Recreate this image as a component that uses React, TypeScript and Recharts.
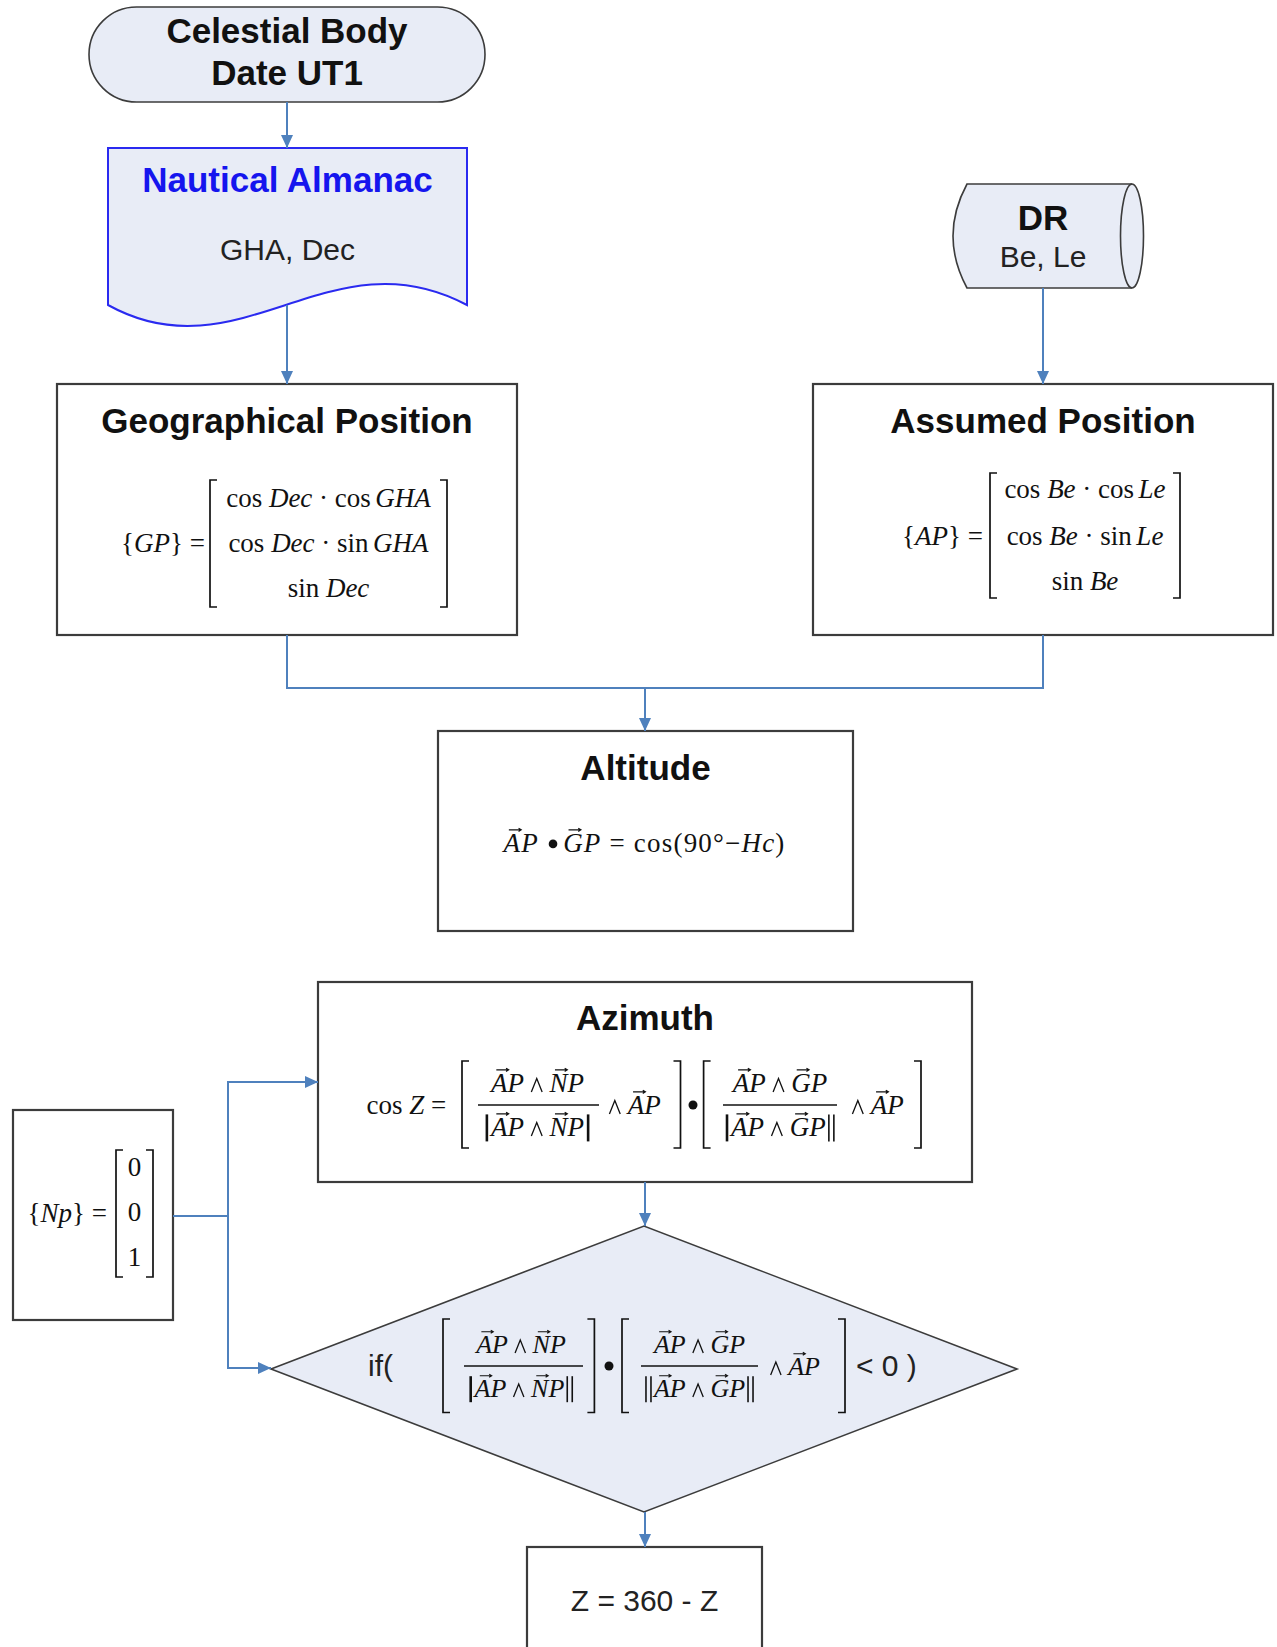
import React from "react";
import { ScatterChart, Scatter, XAxis, YAxis } from "recharts";

const WIDTH = 1277;
const HEIGHT = 1647;

const SANS = '"Liberation Sans", Arial, sans-serif';
const SERIF = '"Liberation Serif", "Times New Roman", serif';
const FLOW_BLUE = "#4f81bd";
const OUTLINE = "#3c3c3c";
const SHADE = "#e8ecf6";
const INK = "#111111";
const TITLE_BLUE = "#1515ee";

// flowchart nodes, centre in diagram units (origin top-left, 1 unit = 1 px)
const nodeIds = ["start", "almanac", "dr", "gp", "ap", "altitude", "azimuth", "np", "test", "flip"];
const nodeX = [287, 287.5, 1045, 287, 1043, 645.5, 645, 93, 644, 644.5];
const nodeY = [54.5, 237, 236, 509.5, 509.5, 831, 1082, 1215, 1369, 1627];

// labels
const startLabel = ["Celestial Body", "Date UT1"];
const almanacLabel = ["Nautical Almanac", "GHA, Dec"];
const drLabel = ["DR", "Be, Le"];
const gpTitle = "Geographical Position";
const apTitle = "Assumed Position";
const altitudeTitle = "Altitude";
const azimuthTitle = "Azimuth";
const npColumn = ["0", "0", "1"];
const flipLabel = "Z = 360 - Z";

// connectors (polyline routes)
const connStart = [{ x: 287, y: 102 }, { x: 287, y: 148 }];
const connAlmanac = [{ x: 287, y: 305 }, { x: 287, y: 384 }];
const connDr = [{ x: 1043, y: 288 }, { x: 1043, y: 384 }];
const connGp = [{ x: 287, y: 635 }, { x: 287, y: 688 }, { x: 645, y: 688 }, { x: 645, y: 731 }];
const connAp = [{ x: 1043, y: 635 }, { x: 1043, y: 688 }, { x: 645, y: 688 }];
const connNpAz = [{ x: 173, y: 1216 }, { x: 228, y: 1216 }, { x: 228, y: 1082 }, { x: 318, y: 1082 }];
const connNpTest = [{ x: 228, y: 1216 }, { x: 228, y: 1368 }, { x: 271, y: 1368 }];
const connAzTest = [{ x: 645, y: 1182 }, { x: 645, y: 1226 }];
const connTestFlip = [{ x: 645, y: 1512 }, { x: 645, y: 1547 }];

const connectors = [
  { pts: connStart, dir: "down" },
  { pts: connAlmanac, dir: "down" },
  { pts: connDr, dir: "down" },
  { pts: connGp, dir: "down" },
  { pts: connAp, dir: "" },
  { pts: connNpAz, dir: "right" },
  { pts: connNpTest, dir: "right" },
  { pts: connAzTest, dir: "down" },
  { pts: connTestFlip, dir: "down" },
];

// ---- tiny math typesetting helpers ----
type Tok = { s?: string; i?: boolean; v?: boolean; k?: "wedge" | "bullet" | "bar" | "dbar" | "gap"; w?: number };

const CW: Record<string, number> = {
  A: 0.611, P: 0.611, N: 0.667, G: 0.722, H: 0.722, Z: 0.556, D: 0.722, B: 0.611, L: 0.556,
  e: 0.444, c: 0.444, o: 0.5, s: 0.389, i: 0.278, n: 0.5, p: 0.5,
  " ": 0.25, "=": 0.564, "(": 0.333, ")": 0.333, "{": 0.48, "}": 0.48, "°": 0.4, "−": 0.564, "·": 0.25,
  "0": 0.5, "1": 0.5, "9": 0.5,
};
const KW = { wedge: 0.95, bullet: 0.55, bar: 0.3, dbar: 0.42, gap: 0.25 };

function tokW(t: Tok, fs: number, ls: number) {
  if (t.k) return (t.w ?? KW[t.k]) * fs;
  let w = 0;
  for (const ch of t.s ?? "") w += (CW[ch] ?? 0.5) * fs + ls;
  return w;
}

function MathRow({ x, y, toks, fs = 27, ls = 0, anchor = "start" }: { x: number; y: number; toks: Tok[]; fs?: number; ls?: number; anchor?: string }) {
  const widths = toks.map((t) => tokW(t, fs, ls));
  const total = widths.reduce((a, b) => a + b, 0);
  let cur = anchor === "middle" ? x - total / 2 : anchor === "end" ? x - total : x;
  const out: React.ReactNode[] = [];
  toks.forEach((t, k) => {
    const x0 = cur;
    const w = widths[k];
    cur += w;
    const mid = x0 + w / 2;
    if (t.k === "wedge") {
      out.push(<path key={k} d={`M${mid - fs * 0.2},${y} L${mid},${y - fs * 0.5} L${mid + fs * 0.2},${y}`} fill="none" stroke={INK} strokeWidth={1.3} />);
    } else if (t.k === "bullet") {
      out.push(<circle key={k} cx={mid} cy={y - fs * 0.3} r={fs * 0.16} fill={INK} />);
    } else if (t.k === "bar") {
      out.push(<line key={k} x1={mid} x2={mid} y1={y - fs * 0.8} y2={y + fs * 0.2} stroke={INK} strokeWidth={2.6} />);
    } else if (t.k === "dbar") {
      out.push(
        <g key={k}>
          <line x1={mid - 2.5} x2={mid - 2.5} y1={y - fs * 0.8} y2={y + fs * 0.2} stroke={INK} strokeWidth={1.6} />
          <line x1={mid + 2.5} x2={mid + 2.5} y1={y - fs * 0.8} y2={y + fs * 0.2} stroke={INK} strokeWidth={1.6} />
        </g>
      );
    } else if (t.k === "gap") {
      // spacing only
    } else {
      out.push(
        <g key={k}>
          <text x={x0} y={y} fontFamily={SERIF} fontSize={fs} fontStyle={t.i ? "italic" : "normal"} letterSpacing={ls} fill={INK}>
            {(t.s ?? "").replace(/ /g, "\u00A0")}
          </text>
          {t.v && (
            <path
              d={`M${x0 + fs * 0.2},${y - fs * 0.82} H${x0 + fs * 0.66} M${x0 + fs * 0.56},${y - fs * 0.88} L${x0 + fs * 0.66},${y - fs * 0.82} L${x0 + fs * 0.56},${y - fs * 0.76}`}
              fill="none"
              stroke={INK}
              strokeWidth={1.1}
            />
          )}
        </g>
      );
    }
  });
  return <g>{out}</g>;
}

function Brackets({ x1, x2, y1, y2 }: { x1: number; x2: number; y1: number; y2: number }) {
  const t = 7;
  return (
    <path
      d={`M${x1 + t},${y1} H${x1} V${y2} H${x1 + t} M${x2 - t},${y1} H${x2} V${y2} H${x2 - t}`}
      fill="none"
      stroke={INK}
      strokeWidth={1.7}
    />
  );
}

const vAP: Tok = { s: "AP", i: true, v: true };
const vNP: Tok = { s: "NP", i: true, v: true };
const vGP: Tok = { s: "GP", i: true, v: true };
const WEDGE: Tok = { k: "wedge" };

function Title({ x, y, text, color = INK }: { x: number; y: number; text: string; color?: string }) {
  return (
    <text x={x} y={y} textAnchor="middle" fontFamily={SANS} fontWeight="bold" fontSize={35} fill={color}>
      {text}
    </text>
  );
}

function Fraction({ cx, y, x1, x2, num, den, fs }: { cx: number; y: number; x1: number; x2: number; num: Tok[]; den: Tok[]; fs: number }) {
  return (
    <g>
      <MathRow x={cx} y={y - 13} toks={num} fs={fs} anchor="middle" />
      <line x1={x1} x2={x2} y1={y} y2={y} stroke={INK} strokeWidth={1.3} />
      <MathRow x={cx} y={y + 31} toks={den} fs={fs} anchor="middle" />
    </g>
  );
}

function NodeShape(props: any) {
  const { cx, cy, payload } = props;
  if (cx == null || cy == null) return <g />;
  const box = (w: number, h: number, fill = "#ffffff") => (
    <rect x={cx - w / 2} y={cy - h / 2} width={w} height={h} fill={fill} stroke={OUTLINE} strokeWidth={2.2} />
  );
  switch (payload.id) {
    case "start":
      return (
        <g>
          <rect x={cx - 198} y={cy - 47.5} width={396} height={95} rx={47.5} fill={SHADE} stroke={OUTLINE} strokeWidth={1.6} />
          <Title x={cx} y={cy - 11.5} text={startLabel[0]} />
          <Title x={cx} y={cy + 30.5} text={startLabel[1]} />
        </g>
      );
    case "almanac":
      return (
        <g>
          <path
            d={`M${cx - 179.5},${cy - 89} H${cx + 179.5} V${cy + 68} C${cx + 42.5},${cy - 5} ${cx - 47.5},${cy + 141} ${cx - 179.5},${cy + 68} Z`}
            fill={SHADE}
            stroke="#2a2af0"
            strokeWidth={2}
          />
          <Title x={cx} y={cy - 45} text={almanacLabel[0]} color={TITLE_BLUE} />
          <text x={cx} y={cy + 23} textAnchor="middle" fontFamily={SANS} fontSize={30} fill="#222">
            {almanacLabel[1]}
          </text>
        </g>
      );
    case "dr":
      return (
        <g>
          <path
            d={`M${cx - 78},${cy - 52} H${cx + 87} A11.5,52 0 0 1 ${cx + 87},${cy + 52} H${cx - 78} Q${cx - 106},${cy} ${cx - 78},${cy - 52} Z`}
            fill={SHADE}
            stroke={OUTLINE}
            strokeWidth={1.6}
          />
          <path d={`M${cx + 87},${cy - 52} A11.5,52 0 0 0 ${cx + 87},${cy + 52}`} fill="none" stroke={OUTLINE} strokeWidth={1.6} />
          <Title x={cx - 2} y={cy - 6} text={drLabel[0]} />
          <text x={cx - 2} y={cy + 31} textAnchor="middle" fontFamily={SANS} fontSize={30} fill="#222">
            {drLabel[1]}
          </text>
        </g>
      );
    case "gp":
      return (
        <g>
          {box(460, 251)}
          <Title x={cx} y={cy - 76.5} text={gpTitle} />
          <MathRow x={cx - 82} y={cy + 42.5} anchor="end" toks={[{ s: "{" }, { s: "GP", i: true }, { s: "}" }, { s: " =" }]} />
          <Brackets x1={cx - 77} x2={cx + 160} y1={cy - 29.5} y2={cy + 97.5} />
          <MathRow x={cx + 41.5} y={cy - 2.5} anchor="middle" toks={[{ s: "cos " }, { s: "Dec", i: true }, { s: " · cos " }, { s: "GHA", i: true }]} />
          <MathRow x={cx + 41.5} y={cy + 42.5} anchor="middle" toks={[{ s: "cos " }, { s: "Dec", i: true }, { s: " · sin " }, { s: "GHA", i: true }]} />
          <MathRow x={cx + 41.5} y={cy + 87.5} anchor="middle" toks={[{ s: "sin " }, { s: "Dec", i: true }]} />
        </g>
      );
    case "ap":
      return (
        <g>
          {box(460, 251)}
          <Title x={cx} y={cy - 76.5} text={apTitle} />
          <MathRow x={cx - 60} y={cy + 35.5} anchor="end" toks={[{ s: "{" }, { s: "AP", i: true }, { s: "}" }, { s: " =" }]} />
          <Brackets x1={cx - 53} x2={cx + 137} y1={cy - 36.5} y2={cy + 88.5} />
          <MathRow x={cx + 42} y={cy - 11.5} anchor="middle" toks={[{ s: "cos " }, { s: "Be", i: true }, { s: " · cos " }, { s: "Le", i: true }]} />
          <MathRow x={cx + 42} y={cy + 35.5} anchor="middle" toks={[{ s: "cos " }, { s: "Be", i: true }, { s: " · sin " }, { s: "Le", i: true }]} />
          <MathRow x={cx + 42} y={cy + 80.5} anchor="middle" toks={[{ s: "sin " }, { s: "Be", i: true }]} />
        </g>
      );
    case "altitude":
      return (
        <g>
          {box(415, 200)}
          <Title x={cx} y={cy - 51} text={altitudeTitle} />
          <MathRow
            x={cx - 1}
            y={cy + 21}
            anchor="middle"
            ls={1.2}
            toks={[vAP, { k: "gap", w: 0.3 }, { k: "bullet", w: 0.45 }, { k: "gap", w: 0.15 }, vGP, { s: " = cos(90°−" }, { s: "Hc", i: true }, { s: ")" }]}
          />
        </g>
      );
    case "azimuth":
      return (
        <g>
          {box(654, 200)}
          <Title x={cx} y={cy - 52} text={azimuthTitle} />
          <MathRow x={cx - 278.5} y={cy + 32} toks={[{ s: "cos " }, { s: "Z", i: true }, { s: " =" }]} />
          <Brackets x1={cx - 183} x2={cx + 35.5} y1={cy - 21} y2={cy + 66} />
          <Fraction cx={cx - 107.5} y={cy + 23} x1={cx - 167} x2={cx - 46} fs={27} num={[vAP, WEDGE, vNP]} den={[{ k: "bar" }, vAP, WEDGE, vNP, { k: "bar" }]} />
          <MathRow x={cx - 43} y={cy + 32} toks={[WEDGE, vAP]} />
          <circle cx={cx + 48} cy={cy + 23} r={4.5} fill={INK} />
          <Brackets x1={cx + 58.6} x2={cx + 276} y1={cy - 21} y2={cy + 66} />
          <Fraction cx={cx + 135} y={cy + 23} x1={cx + 78} x2={cx + 192} fs={27} num={[vAP, WEDGE, vGP]} den={[{ k: "bar" }, vAP, WEDGE, vGP, { k: "dbar" }]} />
          <MathRow x={cx + 200} y={cy + 32} toks={[WEDGE, vAP]} />
        </g>
      );
    case "np":
      return (
        <g>
          {box(160, 210)}
          <MathRow x={cx + 14} y={cy + 7} anchor="end" toks={[{ s: "{" }, { s: "Np", i: true }, { s: "}" }, { s: " =" }]} />
          <Brackets x1={cx + 23} x2={cx + 60} y1={cy - 65} y2={cy + 62} />
          {npColumn.map((v, i) => (
            <text key={i} x={cx + 41.5} y={cy - 39 + i * 45} textAnchor="middle" fontFamily={SERIF} fontSize={27} fill={INK}>
              {v}
            </text>
          ))}
        </g>
      );
    case "test":
      return (
        <g>
          <polygon points={`${cx - 373},${cy} ${cx},${cy - 143} ${cx + 373},${cy} ${cx},${cy + 143}`} fill={SHADE} stroke={OUTLINE} strokeWidth={1.6} />
          <text x={cx - 276} y={cy + 7} fontFamily={SANS} fontSize={30} fill="#222">
            if(
          </text>
          <Brackets x1={cx - 201} x2={cx - 49.6} y1={cy - 50} y2={cy + 43.5} />
          <Fraction cx={cx - 123} y={cy - 3} x1={cx - 180} x2={cx - 61} fs={26} num={[vAP, WEDGE, vNP]} den={[{ k: "bar" }, vAP, WEDGE, vNP, { k: "dbar" }]} />
          <circle cx={cx - 35} cy={cy - 3} r={4.5} fill={INK} />
          <Brackets x1={cx - 22} x2={cx + 201} y1={cy - 50} y2={cy + 43.5} />
          <Fraction cx={cx + 55.5} y={cy - 3} x1={cx - 3} x2={cx + 114} fs={26} num={[vAP, WEDGE, vGP]} den={[{ k: "dbar" }, vAP, WEDGE, vGP, { k: "dbar" }]} />
          <MathRow x={cx + 119.5} y={cy + 6} fs={26} toks={[WEDGE, vAP]} />
          <text x={cx + 212} y={cy + 7} fontFamily={SANS} fontSize={30} fill="#222">
            {"<\u00A00\u00A0)"}
          </text>
        </g>
      );
    case "flip":
      return (
        <g>
          {box(235, 160)}
          <text x={cx} y={cy - 16} textAnchor="middle" fontFamily={SANS} fontSize={30} fill="#222">
            {flipLabel}
          </text>
        </g>
      );
    default:
      return <g />;
  }
}

function arrowShape(dir: string) {
  return (props: any) => {
    const { cx, cy, payload } = props;
    if (cx == null || !payload?.tip) return <g />;
    const pts =
      dir === "right"
        ? `${cx - 13},${cy - 6} ${cx - 13},${cy + 6} ${cx},${cy}`
        : `${cx - 6},${cy - 13} ${cx + 6},${cy - 13} ${cx},${cy}`;
    return <polygon points={pts} fill={FLOW_BLUE} />;
  };
}

export default function App() {
  const nodes = nodeIds.map((id, i) => ({ id, x: nodeX[i], y: nodeY[i] }));
  return (
    <div style={{ position: "absolute", left: 0, top: 0, width: WIDTH, height: HEIGHT, background: "#ffffff", overflow: "hidden" }}>
      <ScatterChart width={WIDTH} height={HEIGHT} margin={{ top: 0, right: 0, bottom: 0, left: 0 }}>
        <XAxis type="number" dataKey="x" domain={[0, WIDTH]} allowDataOverflow hide />
        <YAxis type="number" dataKey="y" domain={[0, HEIGHT]} allowDataOverflow reversed hide />
        <Scatter data={nodes} shape={NodeShape} isAnimationActive={false} />
        {connectors.map((c, i) => (
          <Scatter
            key={i}
            data={c.pts.map((p, j) => ({ ...p, tip: c.dir !== "" && j === c.pts.length - 1 }))}
            line={{ stroke: FLOW_BLUE, strokeWidth: 2 }}
            lineType="joint"
            shape={arrowShape(c.dir)}
            isAnimationActive={false}
          />
        ))}
      </ScatterChart>
    </div>
  );
}
